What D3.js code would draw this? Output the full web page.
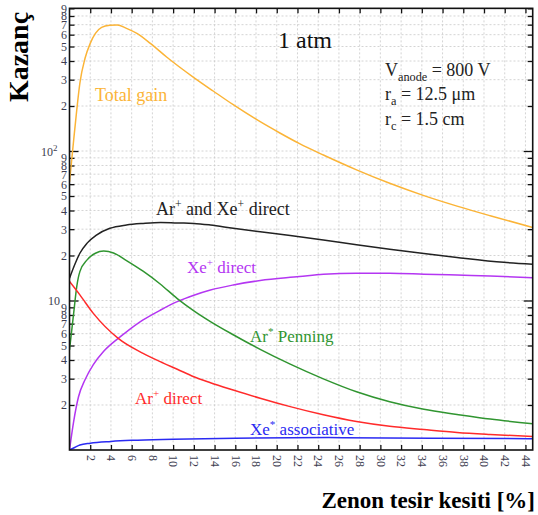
<!DOCTYPE html>
<html>
<head>
<meta charset="utf-8">
<script src="https://cdn.jsdelivr.net/npm/d3@7"></script>
<style>
body { margin: 0; background: #fff; }
svg { display: block; }
text { font-family: "Liberation Serif", "Times New Roman", serif; }
</style>
</head>
<body>
<svg width="538" height="515"></svg>
<script>
// data: [xenon fraction %, gain]
const totalGain = [[0, 62], [0.4, 118], [0.7, 188], [1.0, 284], [1.5, 417], [2.0, 525], [2.5, 612], [3.1, 672],
    [3.9, 693], [4.6, 697], [5.5, 661], [6.5, 612], [7.8, 525], [9.4, 424], [12.0, 310], [13.9, 251], [15.8, 204],
    [18.4, 157], [20.3, 132], [22.2, 112], [24.5, 94], [27.7, 74.8], [30.9, 60.8], [34.2, 50.3], [37.4, 42.8],
    [40.6, 36.9], [44.7, 30.8]]
const arXeDirect = [[0, 14.1], [0.55, 17.7], [1.0, 20.7], [1.7, 24.2], [2.6, 27.4], [3.9, 30.4], [5.5, 32.0],
    [7.1, 32.8], [8.8, 33.3], [10.4, 33.0], [12.0, 32.8], [13.6, 32.0], [15.8, 30.4], [18.4, 28.8], [21.3, 27.2],
    [24.5, 25.4], [27.7, 23.6], [30.9, 22.0], [34.2, 20.6], [37.4, 19.4], [41.9, 18.0], [44.7, 17.5]]
const xeDirect = [[0, 1.0], [0.4, 1.55], [0.87, 2.27], [1.5, 2.95], [2.3, 3.72], [3.3, 4.57], [4.7, 5.58], [5.5, 6.17],
    [7.1, 7.41], [8.75, 8.61], [10.4, 9.82], [12.0, 10.84], [13.6, 11.75], [15.8, 12.7], [18.4, 13.6], [22.2, 14.45],
    [24.5, 15.0], [27.7, 15.2], [30.9, 15.2], [34.2, 15.0], [37.4, 14.8], [40.6, 14.6], [44.7, 14.2]]
const arPenning = [[0, 4.67], [0.4, 8.2], [0.7, 12.4], [1.0, 15.6], [1.7, 18.7], [2.5, 20.7], [3.3, 21.4],
    [4.25, 20.8], [5.5, 18.5], [7.1, 15.7], [8.75, 12.9], [10.4, 10.3], [12.0, 8.53], [13.6, 7.23], [15.8, 5.90],
    [18.4, 4.71], [21.3, 3.75], [24.5, 2.99], [27.7, 2.45], [30.9, 2.10], [34.2, 1.87], [37.4, 1.73],
    [40.6, 1.61], [44.7, 1.50]]
const arDirect = [[0, 13.4], [1.0, 10.9], [2.3, 8.2], [4.7, 5.58], [7.1, 4.43], [8.75, 3.90], [10.4, 3.47],
    [12.0, 3.09], [13.6, 2.82], [15.8, 2.52], [18.4, 2.22], [21.3, 1.95], [24.5, 1.72], [27.7, 1.55], [30.9, 1.44],
    [34.2, 1.37], [37.4, 1.31], [40.6, 1.27], [44.7, 1.23]]
const xeAssociative = [[0, 1.0], [0.5, 1.04], [1.0, 1.08], [2, 1.11], [4, 1.14], [6, 1.16], [10, 1.18], [16, 1.2],
    [25, 1.21], [35, 1.2], [44.7, 1.19]]

const xTicks = d3.range(2, 45, 2)
const yTicks = [2, 3, 4, 5, 6, 7, 8, 9, 10, 20, 30, 40, 50, 60, 70, 80, 90, 100, 200, 300, 400, 500, 600, 700, 800, 900]

const svg = d3.select('svg')
const pLeft = 69.5, pRight = 532.7, pTop = 8.35, pBottom = 450

//scales
const x = d3.scaleLinear().domain([0, 44.7]).range([pLeft, pRight])
const y = d3.scaleLog().domain([1, 900]).range([pBottom, pTop])

//grid
const grid = svg.append('g')
grid.selectAll('line.gx')
    .data(xTicks)
    .enter()
    .append('line')
    .attr('x1', d => x(d)).attr('x2', d => x(d))
    .attr('y1', pTop).attr('y2', pBottom)
grid.selectAll('line.gy')
    .data(yTicks)
    .enter()
    .append('line')
    .attr('x1', pLeft).attr('x2', pRight)
    .attr('y1', d => y(d)).attr('y2', d => y(d))
grid.selectAll('line')
    .attr('stroke', '#c9c9c9')
    .attr('stroke-width', 0.8)
    .attr('stroke-dasharray', '2,2')

//axes
const isDecade = d => d === 10 || d === 100
const tickColor = '#3d3d50'

const xAxisB = svg.append('g')
    .attr('transform', 'translate(0,' + pBottom + ')')
    .call(d3.axisBottom(x).tickValues(xTicks).tickSizeInner(-5).tickSizeOuter(0))
xAxisB.selectAll('text')
    .attr('transform', 'rotate(90)')
    .attr('x', 5).attr('y', 0).attr('dy', '0.35em')
    .attr('text-anchor', 'start')
    .style('font-size', '12px')
    .attr('fill', tickColor)

svg.append('g')
    .attr('transform', 'translate(0,' + pTop + ')')
    .call(d3.axisTop(x).tickValues(xTicks).tickSizeInner(-5).tickSizeOuter(0).tickFormat(''))

const yAxisL = svg.append('g')
    .attr('transform', 'translate(' + pLeft + ',0)')
    .call(d3.axisLeft(y).tickValues(yTicks).tickSizeInner(-5).tickSizeOuter(0).tickPadding(2.5)
        .tickFormat(d => isDecade(d) ? '' : String(d).charAt(0)))
yAxisL.selectAll('text')
    .style('font-size', '12px')
    .attr('fill', tickColor)
yAxisL.selectAll('.tick line').filter(d => isDecade(d)).attr('x2', 9)

svg.append('g')
    .attr('transform', 'translate(' + pRight + ',0)')
    .call(d3.axisRight(y).tickValues(yTicks).tickSizeInner(-5).tickSizeOuter(0).tickFormat(''))
    .selectAll('.tick line').filter(d => isDecade(d)).attr('x2', -9)

svg.selectAll('.domain').remove()
svg.selectAll('.tick line').attr('stroke', '#111').attr('stroke-width', 1.3)

//decade labels
svg.append('text')
    .attr('x', 60).attr('y', y(10)).attr('dy', '0.35em')
    .attr('text-anchor', 'end')
    .style('font-size', '12px')
    .attr('fill', tickColor)
    .text('10')
const dec100 = svg.append('text')
    .attr('x', 41).attr('y', y(100)).attr('dy', '0.4em')
    .style('font-size', '12px')
    .attr('fill', tickColor)
dec100.append('tspan').text('10')
dec100.append('tspan').attr('dy', -5).style('font-size', '9px').text('2')

//curves
const line = d3.line()
    .x(d => x(d[0]))
    .y(d => y(d[1]))
    .curve(d3.curveMonotoneX)

const series = [
    [totalGain, '#fbb437'],
    [arXeDirect, '#222222'],
    [xeDirect, '#b436f2'],
    [arPenning, '#309530'],
    [arDirect, '#ff2b2b'],
    [xeAssociative, '#2a2af2']
]

svg.append('clipPath').attr('id', 'plot')
    .append('rect')
    .attr('x', pLeft).attr('y', pTop)
    .attr('width', pRight - pLeft).attr('height', pBottom - pTop)

svg.append('g')
    .attr('clip-path', 'url(#plot)')
    .selectAll('path')
    .data(series)
    .enter()
    .append('path')
    .attr('d', d => line(d[0]))
    .attr('fill', 'none')
    .attr('stroke', d => d[1])
    .attr('stroke-width', 1.5)

//frame
svg.append('rect')
    .attr('x', pLeft).attr('y', pTop)
    .attr('width', pRight - pLeft).attr('height', pBottom - pTop)
    .attr('fill', 'none')
    .attr('stroke', '#111')
    .attr('stroke-width', 1.6)

//curve labels; parts are plain strings or {up} / {down} objects
function label(px, py, color, size, parts) {
    const t = svg.append('text')
        .attr('x', px).attr('y', py)
        .attr('fill', color)
        .style('font-size', size + 'px')
    let shift = 0
    parts.forEach(p => {
        if (typeof p === 'string') {
            t.append('tspan').attr('dy', -shift).text(p)
            shift = 0
        } else if (p.up) {
            shift = -7
            t.append('tspan').attr('dy', shift).style('font-size', (size * 0.65) + 'px').text(p.up)
        } else {
            shift = 5
            t.append('tspan').attr('dy', shift).style('font-size', (size * 0.68) + 'px').text(p.down)
        }
    })
}

label(95, 101, '#fbb437', 18, ['Total gain'])
label(156, 215, '#222', 18, ['Ar', {up: '+'}, ' and Xe', {up: '+'}, ' direct'])
label(187, 273, '#b436f2', 17, ['Xe', {up: '+'}, ' direct'])
label(250, 342, '#309530', 17, ['Ar', {up: '*'}, ' Penning'])
label(135, 404, '#ff2b2b', 17, ['Ar', {up: '+'}, ' direct'])
label(250, 435, '#2a2af2', 17, ['Xe', {up: '*'}, ' associative'])

//annotations
label(278, 48, '#111', 24, ['1 atm'])
label(385, 76, '#222', 18, ['V', {down: 'anode'}, ' = 800 V'])
label(385, 100, '#222', 18, ['r', {down: 'a'}, ' = 12.5 μm'])
label(385, 125, '#222', 18, ['r', {down: 'c'}, ' = 1.5 cm'])

//axis titles
svg.append('text')
    .attr('transform', 'translate(28,57) rotate(-90)')
    .attr('text-anchor', 'middle')
    .style('font-size', '28px')
    .style('font-weight', 'bold')
    .text('Kazanç')

svg.append('text')
    .attr('x', 535)
    .attr('y', 508)
    .attr('text-anchor', 'end')
    .style('font-size', '23px')
    .style('font-weight', 'bold')
    .text('Zenon tesir kesiti [%]')
</script>
</body>
</html>
